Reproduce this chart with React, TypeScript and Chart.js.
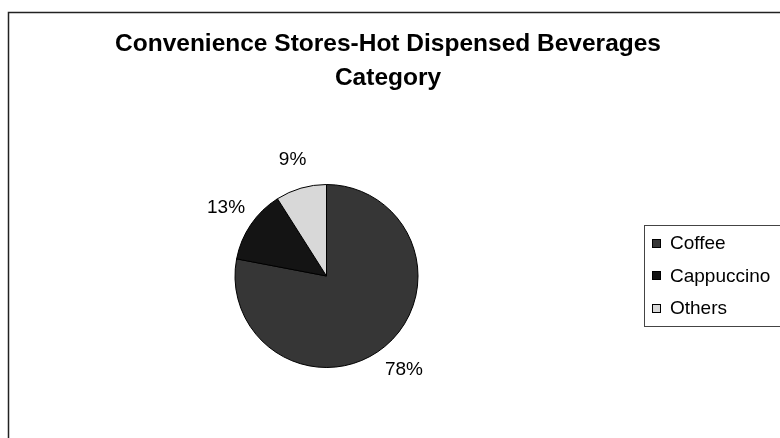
import React, { useEffect, useRef } from "react";
import { Chart, registerables } from "chart.js";

Chart.register(...registerables);

// ---- data ----
const titleLines = ["Convenience Stores-Hot Dispensed Beverages", "Category"];
const categories = ["Coffee", "Cappuccino", "Others"];
const shares = [78, 13, 9];
const sliceColors = ["#363636", "#141414", "#d8d8d8"];

const FONT = "'Liberation Sans', Arial, sans-serif";

const decorPlugin = {
  id: "decor",
  afterDraw(chart: any) {
    const ctx: CanvasRenderingContext2D = chart.ctx;
    ctx.save();
    // outer frame (top + left edges)
    ctx.strokeStyle = "#222";
    ctx.lineWidth = 1.5;
    ctx.beginPath();
    ctx.moveTo(8.5, 438);
    ctx.lineTo(8.5, 12.5);
    ctx.lineTo(780, 12.5);
    ctx.stroke();

    // title
    ctx.fillStyle = "#000";
    ctx.textAlign = "center";
    ctx.textBaseline = "middle";
    ctx.font = `bold 24.5px ${FONT}`;
    titleLines.forEach((t, i) => ctx.fillText(t, 388, 44 + i * 34));

    // percentage labels outside slices
    const meta = chart.getDatasetMeta(0);
    ctx.font = `19px ${FONT}`;
    meta.data.forEach((arc: any, i: number) => {
      const p = arc.getProps(["x", "y", "startAngle", "endAngle", "outerRadius"], true);
      const mid = (p.startAngle + p.endAngle) / 2;
      const r = p.outerRadius + 30;
      ctx.fillText(`${shares[i]}%`, p.x + Math.cos(mid) * r, p.y + Math.sin(mid) * r);
    });

    // legend
    const lx = 644.5, ly = 225.5, lh = 101;
    ctx.strokeStyle = "#444";
    ctx.lineWidth = 1;
    ctx.strokeRect(lx, ly, 150, lh);
    ctx.textAlign = "left";
    ctx.font = `19px ${FONT}`;
    categories.forEach((c, i) => {
      const cy = 243 + i * 32.5;
      ctx.fillStyle = sliceColors[i];
      ctx.fillRect(652, Math.round(cy - 4.5), 9, 9);
      ctx.strokeStyle = "#000";
      ctx.strokeRect(652.5, Math.round(cy - 4.5) + 0.5, 8, 8);
      ctx.fillStyle = "#000";
      ctx.fillText(c, 670, cy + 1);
    });
    ctx.restore();
  },
};

export default function App() {
  const ref = useRef<HTMLCanvasElement>(null);
  useEffect(() => {
    if (!ref.current) return;
    const chart = new Chart(ref.current, {
      type: "pie",
      data: {
        labels: categories,
        datasets: [
          {
            data: shares,
            backgroundColor: sliceColors,
            borderColor: "#000",
            borderWidth: 1,
          },
        ],
      },
      options: {
        responsive: false,
        animation: false,
        layout: { padding: { top: 184, bottom: 70, left: 8, right: 135 } },
        plugins: {
          legend: { display: false },
          title: { display: false },
          tooltip: { enabled: false },
        },
      },
      plugins: [decorPlugin],
    });
    return () => chart.destroy();
  }, []);
  return (
    <div style={{ position: "fixed", left: 0, top: 0, width: 780, height: 438, background: "#fff" }}>
      <canvas ref={ref} width={780} height={438} style={{ display: "block" }} />
    </div>
  );
}
